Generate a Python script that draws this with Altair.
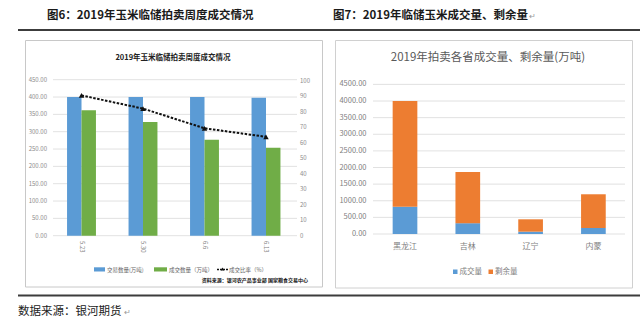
import altair as alt
import pandas as pd

FONT = "Noto Sans CJK SC"

# ---------------- data ----------------
weeks = ["5.23", "5.30", "6.6", "6.13"]
offered = [400, 400, 400, 398]      # 交易数量(万吨)
traded = [362, 328, 277, 254]       # 成交数量(万吨)
ratio = [90.5, 82.0, 69.3, 63.8]    # 成交比率(%)

provinces = ["黑龙江", "吉林", "辽宁", "内蒙"]
deal = [820, 325, 70, 180]          # 成交量
remain = [3180, 1540, 372, 1015]    # 剩余量

ticks_left = [0, 50, 100, 150, 200, 250, 300, 350, 400, 450]
ticks_ratio = [0, 10, 20, 30, 40, 50, 60, 70, 80, 90, 100]
ticks_right = [0, 500, 1000, 1500, 2000, 2500, 3000, 3500, 4000, 4500]

series_l = ["交易数量(万吨)", "成交数量（万吨）"]
series_r = ["成交量", "剩余量"]

BLUE, GREEN, ORANGE = "#5B9BD5", "#70AD47", "#ED7D31"

# ---------------- tables ----------------
left_long = pd.DataFrame({
    "week": weeks * 2,
    "series": [series_l[0]] * 4 + [series_l[1]] * 4,
    "value": offered + traded,
})
left_ratio = pd.DataFrame({"week": weeks, "ratio": ratio, "idx": list(range(len(weeks)))})
right_long = pd.DataFrame({
    "province": provinces * 2,
    "kind": [series_r[0]] * 4 + [series_r[1]] * 4,
    "value": deal + remain,
    "ord": [0] * 4 + [1] * 4,
})
one = pd.DataFrame({"a": [0]})

# ---------------- scales ----------------
xL = alt.Scale(domain=weeks, range=[50.75, 296.75], paddingInner=0.53, paddingOuter=0.265)
yL = alt.Scale(domain=[0, 450], range=[235.7, 79.7], nice=False, zero=False)
yRatio = alt.Scale(domain=[0, 100], range=[235.7, 80.7], nice=False, zero=False)
xR = alt.Scale(domain=provinces, range=[373.6, 624.8], paddingInner=0.607, paddingOuter=0.3035)
yR = alt.Scale(domain=[0, 4500], range=[234, 84.4], nice=False, zero=False)

layers = []

def txt(s, x, y, size, color="#333", weight="normal", align="left", baseline="middle", angle=0):
    return alt.Chart(one).mark_text(
        text=s, font=FONT, fontSize=size, color=color, fontWeight=weight,
        align=align, baseline=baseline, angle=angle
    ).encode(x=alt.value(x), y=alt.value(y))

def hrule(x1, x2, y, color, width=1, dash=None):
    kw = dict(color=color, strokeWidth=width)
    if dash:
        kw["strokeDash"] = dash
    return alt.Chart(one).mark_rule(**kw).encode(x=alt.value(x1), x2=alt.value(x2), y=alt.value(y))

def box(x1, x2, y1, y2, fill=None, stroke=None):
    kw = {}
    if fill:
        kw["fill"] = fill
    else:
        kw["fillOpacity"] = 0
    if stroke:
        kw["stroke"] = stroke
        kw["strokeWidth"] = 1
    return alt.Chart(one).mark_rect(**kw).encode(
        x=alt.value(x1), x2=alt.value(x2), y=alt.value(y1), y2=alt.value(y2))

# ---------------- page decorations ----------------
layers += [
    txt("图6：2019年玉米临储拍卖周度成交情况", 47, 16, 11.5, "#1a1a1a", "bold"),
    txt("图7：2019年临储玉米成交量、剩余量", 333, 16, 11.5, "#1a1a1a", "bold"),
    txt("↵", 529, 17, 8, "#999"),
    hrule(18, 640, 30, "#3c3c3c", 2),
    hrule(18, 640, 295.5, "#3c3c3c", 1.8),
    txt("数据来源：银河期货", 18, 312, 11.5, "#222"),
    txt("↵", 124, 313, 8, "#999"),
    box(25.5, 322.5, 40.5, 287, stroke="#C8C8C8"),
    box(335.5, 632.5, 40.5, 288, stroke="#D0D0D0"),
]

# ---------------- left chart ----------------
layers += [
    txt("2019年玉米临储拍卖周度成交情况", 173, 58, 7.5, "#222", "bold", align="center"),
    alt.Chart(pd.DataFrame({"v": ticks_left})).mark_rule(color="#D9D9D9", strokeWidth=0.8).encode(
        y=alt.Y("v:Q", scale=yL, axis=None), x=alt.value(53), x2=alt.value(297)),
    alt.Chart(pd.DataFrame({"v": ticks_left})).mark_text(
        font=FONT, fontSize=6, color="#8C8C8C", align="right", baseline="middle").encode(
        y=alt.Y("v:Q", scale=yL, axis=None), x=alt.value(47),
        text=alt.Text("v:Q", format=".2f")),
    alt.Chart(pd.DataFrame({"v": ticks_ratio})).mark_text(
        font=FONT, fontSize=6, color="#8C8C8C", align="left", baseline="middle").encode(
        y=alt.Y("v:Q", scale=yRatio, axis=None), x=alt.value(300),
        text=alt.Text("v:Q", format="d")),
    alt.Chart(left_long).mark_bar().encode(
        x=alt.X("week:N", scale=xL, axis=None, sort=weeks),
        xOffset=alt.XOffset("series:N", scale=alt.Scale(domain=series_l, paddingInner=0, paddingOuter=0)),
        y=alt.Y("value:Q", scale=yL, axis=None),
        color=alt.Color("series:N", scale=alt.Scale(domain=series_l, range=[BLUE, GREEN]), legend=None),
    ),
    alt.Chart(left_ratio).mark_line(color="#111", strokeWidth=2, strokeDash=[2.5, 1.5]).encode(
        x=alt.X("week:N", scale=xL, axis=None, sort=weeks),
        y=alt.Y("ratio:Q", scale=yRatio, axis=None),
        order=alt.Order("idx:Q"),
    ),
    alt.Chart(left_ratio).mark_point(shape="triangle-up", filled=True, color="#111", size=30, opacity=1).encode(
        x=alt.X("week:N", scale=xL, axis=None, sort=weeks),
        y=alt.Y("ratio:Q", scale=yRatio, axis=None),
    ),
    alt.Chart(pd.DataFrame({"week": weeks})).mark_text(
        font=FONT, fontSize=6, color="#7F7F7F", angle=90, align="left", baseline="middle").encode(
        x=alt.X("week:N", scale=xL, axis=None, sort=weeks), y=alt.value(241), text="week:N"),
    # legend
    box(94, 105, 267.3, 271.5, fill=BLUE),
    txt(series_l[0], 107, 269.5, 5.5, "#666"),
    box(154, 167, 267.3, 271.5, fill=GREEN),
    txt(series_l[1], 169, 269.5, 5.5, "#666"),
    hrule(217, 228, 269.5, "#111", 1.5, [2, 1]),
    alt.Chart(one).mark_point(shape="triangle-up", filled=True, color="#111", size=12, opacity=1).encode(
        x=alt.value(222.5), y=alt.value(269)),
    txt("成交比率（%）", 229, 269.5, 5.5, "#666"),
    txt("资料来源：银河农产品事业部 国家粮食交易中心", 308, 280, 5, "#111", "bold", align="right"),
]

# ---------------- right chart ----------------
layers += [
    txt("2019年拍卖各省成交量、剩余量(万吨)", 488, 58, 11.5, "#595959", align="center"),
    alt.Chart(pd.DataFrame({"v": ticks_right})).mark_rule(color="#D9D9D9", strokeWidth=0.8).encode(
        y=alt.Y("v:Q", scale=yR, axis=None), x=alt.value(373), x2=alt.value(625)),
    alt.Chart(pd.DataFrame({"v": ticks_right})).mark_text(
        font=FONT, fontSize=7.5, color="#7F7F7F", align="right", baseline="middle").encode(
        y=alt.Y("v:Q", scale=yR, axis=None), x=alt.value(366.5),
        text=alt.Text("v:Q", format=".2f")),
    alt.Chart(right_long).mark_bar().encode(
        x=alt.X("province:N", scale=xR, axis=None, sort=provinces),
        y=alt.Y("value:Q", scale=yR, axis=None, stack="zero"),
        color=alt.Color("kind:N", scale=alt.Scale(domain=series_r, range=[BLUE, ORANGE]), legend=None),
        order=alt.Order("ord:Q"),
    ),
    alt.Chart(pd.DataFrame({"province": provinces})).mark_text(
        font=FONT, fontSize=8, color="#7F7F7F", align="center", baseline="middle").encode(
        x=alt.X("province:N", scale=xR, axis=None, sort=provinces), y=alt.value(247),
        text="province:N"),
    box(453, 457.5, 269.5, 274, fill=BLUE),
    txt(series_r[0], 459.5, 271.8, 7.5, "#7F7F7F"),
    box(488.5, 493, 269.5, 274, fill=ORANGE),
    txt(series_r[1], 495, 271.8, 7.5, "#7F7F7F"),
]

chart = alt.layer(*layers).resolve_scale(
    x="independent", y="independent", color="independent"
).properties(
    width=640, height=324, padding=0,
    autosize=alt.AutoSizeParams(type="none"),
    background="white",
).configure_view(stroke=None)

chart.save("out.html", embed_options={"renderer": "svg", "actions": False})
